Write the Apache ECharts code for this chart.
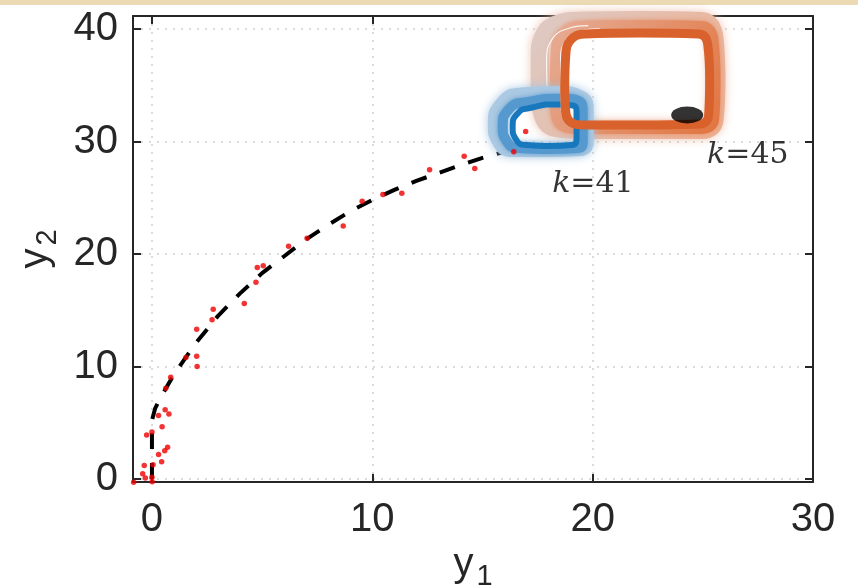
<!DOCTYPE html>
<html>
<head>
<meta charset="utf-8">
<script src="https://cdn.jsdelivr.net/npm/echarts@6/dist/echarts.min.js"></script>
<style>
  html, body { margin: 0; padding: 0; background: #ffffff; }
  #main { width: 858px; height: 588px; }
</style>
</head>
<body>
<div id="main"></div>
<script>
// tick values
var xTicks = [0, 10, 20, 30]
var yTicks = [0, 10, 20, 30, 40]

// dashed reference curve (y1, y2)
var curvePts = [
  [0, 0], [0, 5.2], [0.15, 6.3], [0.5, 7.6], [1.0, 9.3], [2, 12.1], [3, 14.5],
  [4, 16.5], [5, 18.3], [6, 19.8], [7, 21.3], [8, 22.6], [9, 23.8], [10, 24.8],
  [11, 25.7], [12, 26.5], [13, 27.2], [14, 27.9], [15, 28.55], [16.4, 29.3]
]

// red samples
var samplePts = [
  [-0.83, -0.3], [0.01, -0.24], [-0.3, 0.08], [0, 0.15], [-0.42, 0.47], [-0.35, 1.2],
  [0.05, 1.27], [0.44, 1.52], [0.3, 2.17], [0.58, 2.5], [0.71, 2.82], [-0.24, 3.9],
  [0, 4.17], [0.46, 4.65], [0.3, 5.64], [0.77, 5.78], [0.6, 6.16], [0.63, 8.06],
  [0.85, 9.04], [2.05, 10.0], [1.54, 10.8], [2.03, 10.9], [2.03, 13.3], [2.73, 14.15],
  [2.78, 15.08], [4.19, 15.6], [4.72, 17.5], [4.78, 18.8], [5.05, 18.96], [6.2, 20.7],
  [7.04, 21.4], [8.68, 22.5], [9.54, 24.7], [10.48, 25.3], [11.34, 25.4], [12.6, 27.5],
  [14.17, 28.7], [14.65, 27.6], [16.42, 29.1], [16.96, 30.9]
]

// k=41 orbit (blue), outer transient -> inner limit cycle
var blueOuter = [
  [18.05, 29.24], [19.41, 29.33], [19.73, 30.13], [19.73, 32.62], [19.41, 33.96], [18.5, 34.31],
  [16.92, 34.2], [15.87, 33.3], [15.56, 31.47], [15.74, 30.04], [16.46, 29.24], [18.05, 29.24]
]
var blueMid = [
  [18.05, 29.33], [19.32, 29.42], [19.55, 30.13], [19.55, 32.36], [19.37, 33.6], [18.5, 33.8],
  [17.01, 33.5], [16.19, 32.85], [15.92, 31.29], [16.1, 30.04], [16.69, 29.42], [18.05, 29.33]
]
var blueCore = [
  [18.05, 29.6], [19.05, 29.69], [19.27, 30.4], [19.27, 32.5], [19.1, 33.2], [18.4, 33.3],
  [17.2, 33.0], [16.6, 32.5], [16.37, 31.29], [16.51, 30.22], [17.01, 29.69], [18.05, 29.6]
]

// k=45 orbit (orange)
var orangeOuter = [
  [22.13, 31.02], [24.99, 31.02], [25.53, 31.91], [25.62, 35.47], [25.53, 39.2], [24.94, 40.71],
  [22.13, 40.8], [19.5, 40.75], [18.28, 40.36], [17.73, 39.2], [17.6, 37.69], [17.6, 34.58],
  [17.73, 32.36], [18.32, 31.2], [19.5, 31.02], [22.13, 31.02]
]
var orangeMid = [
  [22.13, 31.2], [24.94, 31.2], [25.47, 32.0], [25.53, 35.47], [25.44, 39.02], [24.94, 40.18],
  [22.13, 40.27], [19.5, 40.18], [18.64, 39.47], [18.37, 37.96], [18.32, 34.58], [18.37, 32.44],
  [18.73, 31.38], [19.5, 31.2], [22.13, 31.2]
]
var orangeCore = [
  [22.13, 31.47], [24.85, 31.56], [25.26, 32.27], [25.31, 35.47], [25.22, 38.67], [24.81, 39.56],
  [22.13, 39.64], [19.64, 39.56], [19.0, 39.02], [18.78, 37.69], [18.73, 34.58], [18.78, 32.62],
  [19.0, 31.73], [19.64, 31.47], [22.13, 31.47]
]
// thin white gaps between transient passes (left/top of k=45)
var gapA = [[18.59, 32.8], [18.55, 37.24], [18.78, 39.02], [19.41, 39.82], [20.32, 40.0]]
var gapB = [[17.96, 33.24], [17.91, 37.24], [18.19, 39.2], [18.96, 40.09], [19.8, 40.3]]

// final state marker
var endPt = [[24.29, 32.36]]

// annotations
var annot = [
  {value: [18.14, 26.2], k: '41'},
  {value: [25.17, 28.8], k: '45'}
]

var chart = echarts.init(document.getElementById('main'))

var axisColor = '#262626'
var gridLine = {show: true, lineStyle: {color: '#cfcfcf', type: [2, 6], width: 1.5}}

function loop(data, width, color, z, blur, blurColor, smooth) {
  return {
    type: 'line', data: data, smooth: smooth || 0.45, symbol: 'none', clip: false, z: z,
    lineStyle: {width: width, color: color, shadowBlur: blur || 0, shadowColor: blurColor || 'transparent'},
    silent: true
  }
}

var grad = function (c0, c1) {
  return new echarts.graphic.LinearGradient(0, 0, 1, 1, [{offset: 0, color: c0}, {offset: 1, color: c1}])
}

var option = {
  animation: false,
  backgroundColor: '#ffffff',
  textStyle: {fontFamily: 'Liberation Sans'},
  graphic: [{
    type: 'rect', shape: {x: 0, y: 0, width: 858, height: 5},
    style: {fill: '#ebdab3'}
  }],
  grid: {left: 133, right: 45, top: 16, bottom: 106, containLabel: false, outerBoundsMode: 'none'},
  xAxis: [{
    type: 'value', min: -0.86, max: 30, position: 'bottom',
    axisLine: {show: true, onZero: false, lineStyle: {color: axisColor, width: 2}},
    axisTick: {show: true, inside: true, length: 8, customValues: xTicks, lineStyle: {color: axisColor, width: 2}},
    axisLabel: {customValues: xTicks, fontSize: 40, color: axisColor, margin: 18},
    splitLine: gridLine,
    name: '{v|y}{s|1}', nameLocation: 'middle', nameGap: 48,
    nameTextStyle: {
      rich: {
        v: {fontSize: 40, color: axisColor},
        s: {fontSize: 29, color: axisColor, padding: [24, 0, 0, 3]}
      }
    }
  }, {
    type: 'value', min: -0.86, max: 30, position: 'top',
    axisLine: {show: true, onZero: false, lineStyle: {color: axisColor, width: 2}},
    axisTick: {show: true, inside: true, length: 8, customValues: xTicks, lineStyle: {color: axisColor, width: 2}},
    axisLabel: {show: false},
    splitLine: {show: false}
  }],
  yAxis: [{
    type: 'value', min: -0.27, max: 41.16, position: 'left',
    axisLine: {show: true, onZero: false, lineStyle: {color: axisColor, width: 2}},
    axisTick: {show: true, inside: true, length: 8, customValues: yTicks, lineStyle: {color: axisColor, width: 2}},
    axisLabel: {customValues: yTicks, fontSize: 40, color: axisColor, margin: 15},
    splitLine: gridLine,
    name: '{v|y}{s|2}', nameLocation: 'middle', nameGap: 64,
    nameTextStyle: {
      rich: {
        v: {fontSize: 40, color: axisColor},
        s: {fontSize: 29, color: axisColor, padding: [24, 0, 0, 3]}
      }
    }
  }, {
    type: 'value', min: -0.27, max: 41.16, position: 'right',
    axisLine: {show: true, onZero: false, lineStyle: {color: axisColor, width: 2}},
    axisTick: {show: true, inside: true, length: 8, customValues: yTicks, lineStyle: {color: axisColor, width: 2}},
    axisLabel: {show: false},
    splitLine: {show: false}
  }],
  series: [
    {
      type: 'line', data: curvePts, symbol: 'none', z: 3,
      lineStyle: {color: '#000000', width: 4, type: [16, 14]}
    },
    loop(orangeOuter, 18, grad('#ddcbc6', '#eeae8e'), 4, 10, 'rgba(236,190,170,0.9)'),
    loop(orangeMid, 12, grad('#e6ad96', '#e1743f'), 5, 5, 'rgba(228,135,95,0.8)'),
    loop(gapB, 1.2, 'rgba(255,255,255,0.85)', 5),
    loop(blueOuter, 14, '#abc9e2', 6, 10, 'rgba(160,195,225,0.9)', 0.6),
    loop(blueMid, 10, '#5599cf', 7, 5, 'rgba(75,145,205,0.8)', 0.6),
    loop(blueCore, 6, '#1878bd', 8, 0, null, 0.6),
    loop(gapA, 1.4, 'rgba(255,255,255,0.9)', 8),
    loop(orangeCore, 9, '#d9612b', 9),
    {
      type: 'scatter', data: endPt, symbol: 'circle', symbolSize: [32, 17], z: 10,
      itemStyle: {color: '#000000'}
    },
    {
      type: 'scatter', data: samplePts, symbolSize: 5.5, clip: false, z: 11,
      itemStyle: {color: '#ee0000'}
    },
    {
      type: 'scatter', data: annot, symbolSize: 1, z: 12,
      itemStyle: {color: 'transparent'},
      label: {
        show: true, position: 'right', distance: 0,
        formatter: function (p) { return '{i|k}{n|=' + p.data.k + '}' },
        rich: {
          i: {fontFamily: 'DejaVu Serif', fontStyle: 'italic', fontSize: 30, color: '#000000'},
          n: {fontFamily: 'DejaVu Serif', fontSize: 30, color: '#000000'}
        }
      }
    }
  ]
}
chart.setOption(option)
</script>
</body>
</html>
